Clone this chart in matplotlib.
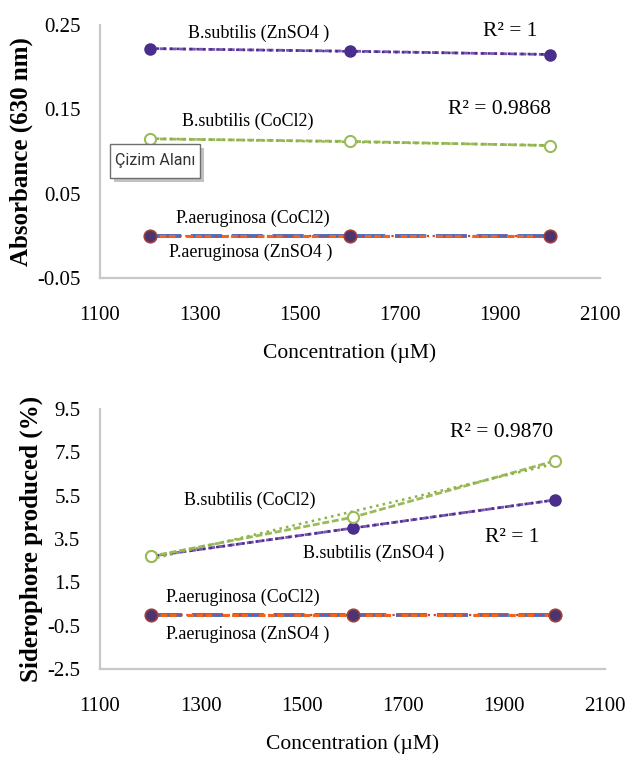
import numpy as np
import matplotlib
matplotlib.use("Agg")
import matplotlib.pyplot as plt
from matplotlib.patches import Rectangle

# ---------------- data ----------------
conc = [1200, 1600, 2000]

abs_bs_zn = [0.222, 0.219, 0.215]
abs_bs_co = [0.115, 0.112, 0.107]
abs_pa_co = [0.0, 0.0, 0.0]
abs_pa_zn = [0.0, 0.0, 0.0]

sid_bs_zn = [2.7, 4.0, 5.3]
sid_bs_co = [2.7, 4.5, 7.1]
sid_pa_co = [0.0, 0.0, 0.0]
sid_pa_zn = [0.0, 0.0, 0.0]

xticks = [1100, 1300, 1500, 1700, 1900, 2100]
abs_ticks = [-0.05, 0.05, 0.15, 0.25]
abs_ticklabels = ["-0.05", "0.05", "0.15", "0.25"]
sid_ticks = [-2.5, -0.5, 1.5, 3.5, 5.5, 7.5, 9.5]
sid_ticklabels = ["-2.5", "-0.5", "1.5", "3.5", "5.5", "7.5", "9.5"]

PURPLE = "#7b56b3"
PURPLE_DK = "#4a2d8c"
GREEN = "#9bbb59"
ORANGE = "#f0641e"
BLUE = "#4a6fc0"
PA_MK = "#4b3470"

SERIF = ["Liberation Serif", "DejaVu Serif"]

fig = plt.figure(figsize=(6.29, 7.58), dpi=100)
W, H = 629, 758


def ax_rect(l, t, r, b):
    return [l / W, 1 - b / H, (r - l) / W, (b - t) / H]


def trend(ax, x, y, color, ls, lw=1.8):
    p = np.polyfit(x, y, 1)
    xx = np.array([x[0], x[-1]])
    ax.plot(xx, np.polyval(p, xx), color=color, ls=ls, lw=lw, zorder=3)


def style(ax, yticks, ylabels, ylim, ylabel):
    ax.set_xlim(1100, 2100)
    ax.set_ylim(*ylim)
    ax.set_xticks(xticks)
    ax.set_xticklabels([str(v) for v in xticks], fontfamily=SERIF, fontsize=15)
    ax.set_yticks(yticks)
    ax.set_yticklabels(ylabels, fontfamily=SERIF, fontsize=15)
    ax.tick_params(length=0, pad=20, axis="x")
    ax.tick_params(length=0, pad=14, axis="y")
    for s in ["top", "right"]:
        ax.spines[s].set_visible(False)
    for s in ["left", "bottom"]:
        ax.spines[s].set_color("#c8c8c8")
        ax.spines[s].set_linewidth(1.6)
    ax.set_xlabel("Concentration (µM)", fontfamily=SERIF, fontsize=15.5, labelpad=13)
    ax.set_ylabel(ylabel, fontfamily=SERIF, fontsize=18, fontweight="bold", labelpad=3)


def draw_series(ax, bzn, bco, pco, pzn):
    # B. subtilis ZnSO4
    ax.plot(conc, bzn, color=PURPLE, ls=(0, (2.5, 1.0)), lw=2.0, zorder=3)
    trend(ax, conc, bzn, PURPLE_DK, ":")
    ax.plot(conc, bzn, ls="none", marker="o", ms=8, mfc=PURPLE_DK, mec=PURPLE_DK, zorder=5)
    # B. subtilis CoCl2
    ax.plot(conc, bco, color=GREEN, ls=(0, (2.5, 1.0)), lw=2.0, zorder=3)
    trend(ax, conc, bco, "#8db248", ":")
    ax.plot(conc, bco, ls="none", marker="o", ms=8, mfc="white", mec=GREEN, mew=1.5, zorder=5)
    # P. aeruginosa
    ax.plot(conc, pzn, color=BLUE, ls=(0, (8, 2.5)), lw=2.8, zorder=3)
    ax.plot(conc, pco, color=ORANGE, ls=(0, (2.2, 0.8, 2.2, 0.8, 2.2, 3.5)), lw=2.2, zorder=4)
    trend(ax, conc, pco, "#d9402a", ":", lw=1.6)
    ax.plot(conc, pco, ls="none", marker="o", ms=9, mfc=PA_MK, mec="#a0403a", mew=1.2, zorder=5)


def label(x, y, s, size=13):
    # x, y in figure pixels (top-left origin), centered text
    fig.text(x / W, 1 - y / H, s, ha="center", va="center",
             fontfamily=SERIF, fontsize=size)


# ---------------- top panel ----------------
ax1 = fig.add_axes(ax_rect(100, 25, 600, 278))
draw_series(ax1, abs_bs_zn, abs_bs_co, abs_pa_co, abs_pa_zn)
style(ax1, abs_ticks, abs_ticklabels, (-0.05, 0.25), "Absorbance (630 nm)")

label(259, 33, "B.subtilis (ZnSO4 )")
label(510, 31, "R² = 1", size=15.5)
label(500, 109, "R² = 0.9868", size=15.5)
label(248, 121, "B.subtilis (CoCl2)")
label(253, 218, "P.aeruginosa (CoCl2)")
label(251, 252, "P.aeruginosa (ZnSO4 )")

# "Çizim Alanı" tooltip with shadow
bx, by, bw, bh = 110, 144, 90, 34
fig.patches.append(Rectangle(((bx + 4) / W, 1 - (by + bh + 4) / H), bw / W, bh / H,
                             transform=fig.transFigure, facecolor="#9a9a9a",
                             edgecolor="none", alpha=0.6, zorder=10))
fig.patches.append(Rectangle((bx / W, 1 - (by + bh) / H), bw / W, bh / H,
                             transform=fig.transFigure, facecolor="white",
                             edgecolor="#6e6e6e", lw=1.0, zorder=11))
fig.text((bx + bw / 2) / W, 1 - (by + bh / 2) / H, "Çizim Alanı", ha="center",
         va="center", fontfamily=["Roboto", "DejaVu Sans"], fontsize=11.5,
         color="#333333", zorder=12)

# ---------------- bottom panel ----------------
ax2 = fig.add_axes(ax_rect(100, 409, 605, 669))
draw_series(ax2, sid_bs_zn, sid_bs_co, sid_pa_co, sid_pa_zn)
style(ax2, sid_ticks, sid_ticklabels, (-2.5, 9.5), "Siderophore produced (%)")

label(502, 432, "R² = 0.9870", size=15.5)
label(250, 500, "B.subtilis (CoCl2)")
label(374, 553, "B.subtilis (ZnSO4 )")
label(512, 538, "R² = 1", size=15.5)
label(243, 597, "P.aeruginosa (CoCl2)")
label(248, 634, "P.aeruginosa (ZnSO4 )")

fig.savefig("out.png", dpi=100, facecolor="white")
